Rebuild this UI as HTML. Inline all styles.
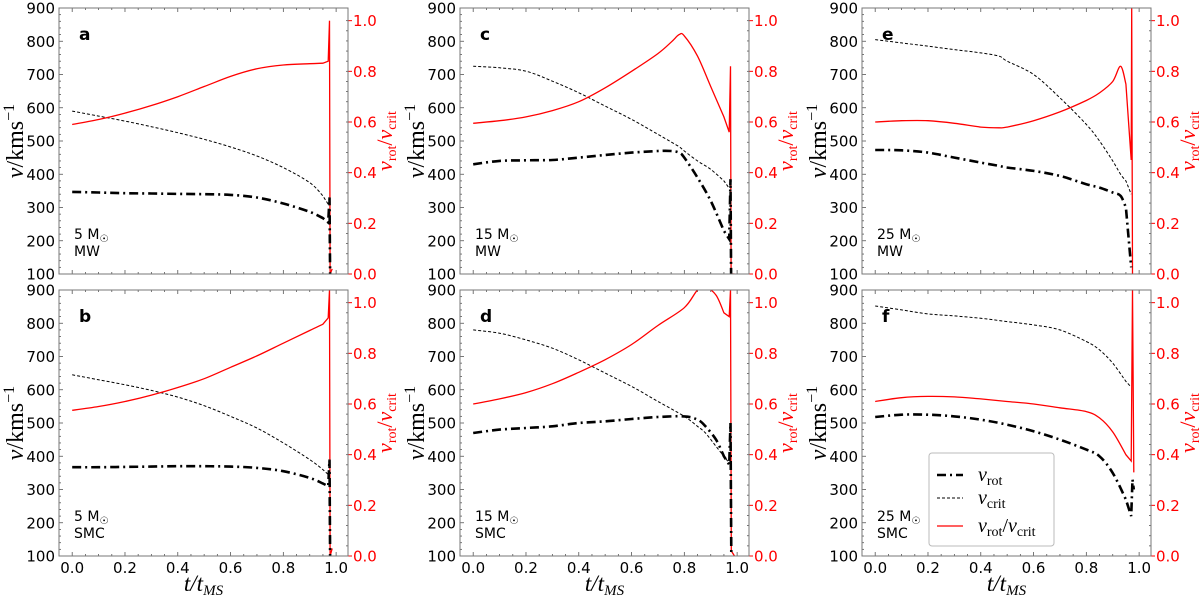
<!DOCTYPE html>
<html><head><meta charset="utf-8"><style>
html,body{margin:0;padding:0;background:#fff;}
svg{display:block;}
text{font-family:"DejaVu Sans","Liberation Sans",sans-serif;}
.ser{font-family:"Liberation Serif","DejaVu Serif",serif;font-style:italic;}
.rm{font-family:"Liberation Serif","DejaVu Serif",serif;}
</style></head><body>
<svg id="fig" width="1200" height="597" viewBox="0 0 1200 597" xmlns="http://www.w3.org/2000/svg"></svg>
<script>
// ---- data ----
const panelLetters=["a","b","c","d","e","f"];
const panelMass=["5 M","5 M","15 M","15 M","25 M","25 M"];
const panelEnv=["MW","SMC","MW","SMC","MW","SMC"];
const tA=[0,.1,.2,.3,.4,.5,.6,.7,.8,.9,.95,.97,.975,.977,.985];
const vrotA=[347,345,343,342,341,340,338,330,312,287,268,255,330,100,null];
const vcritA=[590,575,560,543,525,505,482,455,420,375,335,310,null,null,null];
const ratioA=[.59,.61,.635,.665,.70,.74,.78,.81,.825,.83,.832,.84,1.0,0.0,0.02];
const tB=[0,.1,.2,.3,.4,.5,.6,.7,.8,.9,.95,.97,.975,.977,.985];
const vrotB=[367,367,368,369,370,370,369,365,355,335,318,310,390,100,null];
const vcritB=[645,630,615,598,578,552,520,485,440,390,360,345,null,null,null];
const ratioB=[.575,.59,.61,.635,.665,.70,.745,.79,.84,.89,.915,.94,1.05,0.0,0.03];
const tC=[0,.1,.2,.3,.4,.5,.6,.7,.75,.78,.8,.85,.9,.95,.97,.975,.977,.99];
const vrotC=[430,440,442,443,450,458,465,470,470,465,450,390,320,230,205,385,100,null];
const vcritC=[725,720,710,680,645,605,565,520,497,483,470,440,415,380,358,null,null,null];
const ratioC=[.595,.605,.62,.645,.68,.735,.80,.87,.915,.945,.94,.86,.74,.62,.56,.82,0,0];
const tD=[0,.1,.2,.3,.4,.5,.6,.7,.8,.85,.88,.92,.95,.97,.975,.978,.99];
const vrotD=[470,480,485,490,500,505,512,518,520,510,490,450,400,375,500,100,null];
const vcritD=[780,770,750,725,690,650,610,565,520,490,470,430,400,380,null,null,null];
const ratioD=[.60,.62,.645,.68,.725,.775,.835,.91,.98,1.05,1.06,1.03,.96,.945,1.05,0.02,0.0];
const tE=[0,.1,.2,.3,.4,.47,.5,.6,.7,.8,.85,.9,.93,.95,.97,.972,.975];
const vrotE=[473,472,465,450,435,425,420,410,395,370,360,345,335,300,120,null,null];
const vcritE=[805,795,785,775,765,755,740,700,630,550,500,440,400,380,340,null,null];
const ratioE=[.60,.605,.605,.595,.58,.577,.58,.605,.64,.685,.715,.76,.82,.75,.45,1.05,0.0];
const tF=[0,.1,.2,.3,.4,.5,.6,.7,.8,.85,.9,.95,.97,.975,.98];
const vrotF=[518,525,525,520,510,495,475,450,420,400,350,270,220,330,300];
const vcritF=[852,840,828,822,815,805,795,780,745,720,680,625,608,null,null];
const ratioF=[.61,.625,.63,.628,.62,.61,.60,.585,.57,.545,.49,.40,.375,1.05,.33];
const yTicks=[100,200,300,400,500,600,700,800,900];
const rTicks=[0,0.2,0.4,0.6,0.8,1.0];
const xTicks=[0,0.2,0.4,0.6,0.8,1.0];
const panelT=[tA,tB,tC,tD,tE,tF];
const panelVrot=[vrotA,vrotB,vrotC,vrotD,vrotE,vrotF];
const panelVcrit=[vcritA,vcritB,vcritC,vcritD,vcritE,vcritF];
const panelRatio=[ratioA,ratioB,ratioC,ratioD,ratioE,ratioF];

const NS="http://www.w3.org/2000/svg";
const fig=document.getElementById('fig');
function mk(tag,attrs,parent){const e=document.createElementNS(NS,tag);for(const k in attrs)e.setAttribute(k,attrs[k]);(parent||fig).appendChild(e);return e;}

const colL=[59,460,862], colW=289;
const rowT=[8,290], rowH=266;

function path(ts,vals,xs,sc){
  const segs=[];let cur=[];
  ts.forEach((t,i)=>{const v=vals[i];if(v===null){if(cur.length)segs.push(cur);cur=[];return;}cur.push([xs(t),sc(v),t]);});
  if(cur.length)segs.push(cur);
  let d='';
  segs.forEach(pts=>{
    d+='M'+pts[0][0].toFixed(1)+','+pts[0][1].toFixed(1);
    for(let i=0;i<pts.length-1;i++){
      const p1=pts[i],p2=pts[i+1];
      if(p2[2]>0.965){d+='L'+p2[0].toFixed(1)+','+p2[1].toFixed(1);continue;}
      const p0=pts[i-1]||p1,p3=(pts[i+2]&&pts[i+2][2]<=0.965)?pts[i+2]:p2;
      const c1x=p1[0]+(p2[0]-p0[0])/6,c1y=p1[1]+(p2[1]-p0[1])/6;
      const c2x=p2[0]-(p3[0]-p1[0])/6,c2y=p2[1]-(p3[1]-p1[1])/6;
      d+=`C${c1x.toFixed(1)},${c1y.toFixed(1)} ${c2x.toFixed(1)},${c2y.toFixed(1)} ${p2[0].toFixed(1)},${p2[1].toFixed(1)}`;
    }
  });
  return d;
}

for(let p=0;p<6;p++){
  const col=Math.floor(p/2), row=p%2;
  const L=colL[col], R=L+colW, T=rowT[row], B=T+rowH;
  const g=mk('g',{});
  
  
  const xs=t=>L+(t+0.05)/1.095*colW;
  const ys=v=>B-(v-100)/800*rowH;
  const yr=r=>B-r/1.05*rowH;
  for(let v=100;v<=900;v+=20){const y=ys(v);const big=(v%100===0);
    mk('line',{x1:L,x2:L+(big?4:2),y1:y,y2:y,stroke:'#555','stroke-width':0.8},g);}
  for(let t=0;t<=1.0001;t+=0.05){const x=xs(t);const big=Math.abs(t*5-Math.round(t*5))<1e-6;
    mk('line',{x1:x,x2:x,y1:B,y2:B-(big?4:2),stroke:'#555','stroke-width':0.8},g);
    mk('line',{x1:x,x2:x,y1:T,y2:T+(big?4:2),stroke:'#555','stroke-width':0.8},g);}
  for(let r=0;r<=1.0001;r+=0.04){const y=yr(r);
    mk('line',{x1:R,x2:R-2,y1:y,y2:y,stroke:'#555','stroke-width':0.8},g);}
  yTicks.forEach(v=>{const t=mk('text',{x:L-4,y:ys(v)+5.5,'text-anchor':'end','font-size':15,fill:'#000'},g);t.textContent=v;
    
    });
  rTicks.forEach(r=>{mk('line',{x1:R,x2:R+4,y1:yr(r),y2:yr(r),stroke:'#f00','stroke-width':1},g);
    const t=mk('text',{x:R+5,y:yr(r)+5.5,'font-size':15,fill:'#f00'},g);t.textContent=r.toFixed(1);
    
    });
  if(row===1){xTicks.forEach(v=>{const t=mk('text',{x:xs(v),y:B+17,'text-anchor':'middle','font-size':15,fill:'#000'},g);t.textContent=v.toFixed(1);
    
    });
    const xl=mk('text',{x:(L+R)/2,y:B+35,'text-anchor':'middle','font-size':23,fill:'#000',class:'ser'},g);
    xl.innerHTML='t/t<tspan font-size="15" dy="4">MS</tspan>';
    
    }
  const yl=mk('text',{transform:`translate(${L-36},${(T+B)/2}) rotate(-90)`,'text-anchor':'middle','font-size':24,fill:'#000',class:'rm'},g);
  yl.innerHTML='<tspan class="ser">v</tspan>/kms<tspan font-size="16" dy="-9">−1</tspan>';
  
  
  const rl=mk('text',{transform:`translate(${R+44},${(T+B)/2}) rotate(-90)`,'text-anchor':'middle','font-size':22,fill:'#f00',class:'rm'},g);
  rl.innerHTML='<tspan class="ser">v</tspan><tspan font-size="14" dy="4">rot</tspan><tspan dy="-4">/</tspan><tspan class="ser">v</tspan><tspan font-size="14" dy="4">crit</tspan>';
  
  
  const clip=mk('clipPath',{id:'c'+p},g);mk('rect',{x:L,y:T,width:colW,height:rowH},clip);
  const sg=mk('g',{'clip-path':`url(#c${p})`},g);
  const pc=mk('path',{d:path(panelT[p],panelVcrit[p],xs,ys),fill:'none',stroke:'#000','stroke-width':1,'stroke-dasharray':'3,2'},sg);
  
  
  const pr=mk('path',{d:path(panelT[p],panelRatio[p],xs,yr),fill:'none',stroke:'#f00','stroke-width':1.3},sg);
  
  
  const pv=mk('path',{d:path(panelT[p],panelVrot[p],xs,ys),fill:'none',stroke:'#000','stroke-width':2.6,'stroke-dasharray':'9,4,2,4'},sg);
  
  
  mk('rect',{x:L,y:T,width:colW,height:rowH,fill:'none',stroke:'#777','stroke-width':1},g);
  const lt=mk('text',{x:L+20,y:T+32,'font-size':17,'font-weight':'bold',fill:'#000'},g);lt.textContent=panelLetters[p];
  
  
  const ml=mk('text',{x:L+15,y:B-35,'font-size':14,fill:'#000'},g);ml.innerHTML=panelMass[p]+'<tspan font-size="10" dy="3">☉</tspan>';
  
  
  const el=mk('text',{x:L+15,y:B-18,'font-size':14,fill:'#000'},g);el.textContent=panelEnv[p];
  
  
}
const lg=mk('g',{});


mk('rect',{x:929,y:453,width:125,height:93,rx:3,fill:'#fff',stroke:'#bbb','stroke-width':1},lg);
mk('line',{x1:937,x2:963,y1:475,y2:475,stroke:'#000','stroke-width':2.6,'stroke-dasharray':'9,4,2,4'},lg);
mk('line',{x1:937,x2:963,y1:498,y2:498,stroke:'#000','stroke-width':1,'stroke-dasharray':'3,2'},lg);
mk('line',{x1:937,x2:963,y1:526,y2:526,stroke:'#f00','stroke-width':1.3},lg);
const l1=mk('text',{x:978,y:481,'font-size':20,fill:'#000',class:'rm'},lg);
l1.innerHTML='<tspan class="ser">v</tspan><tspan font-size="14" dy="4">rot</tspan>';
const l2=mk('text',{x:978,y:504,'font-size':20,fill:'#000',class:'rm'},lg);
l2.innerHTML='<tspan class="ser">v</tspan><tspan font-size="14" dy="4">crit</tspan>';
const l3=mk('text',{x:978,y:532,'font-size':20,fill:'#000',class:'rm'},lg);
l3.innerHTML='<tspan class="ser">v</tspan><tspan font-size="14" dy="4">rot</tspan><tspan dy="-4">/</tspan><tspan class="ser">v</tspan><tspan font-size="14" dy="4">crit</tspan>';
</script>
</body></html>
